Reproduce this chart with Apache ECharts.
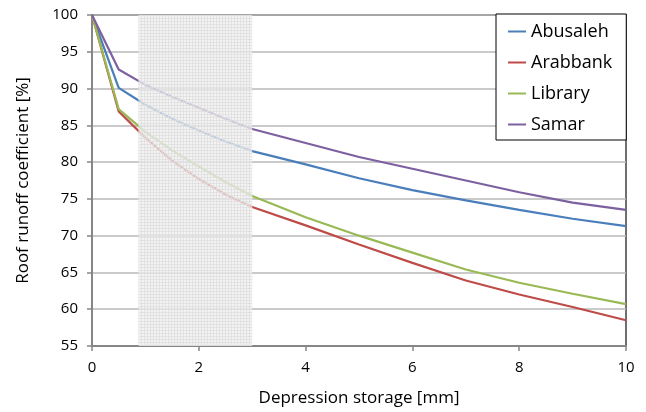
<!DOCTYPE html>
<html><head><meta charset="utf-8">
<script src="https://cdn.jsdelivr.net/npm/echarts@6/dist/echarts.min.js"></script>
<style>html,body{margin:0;padding:0;background:#fff}#c{width:646px;height:412px}</style>
</head><body><div id="c"></div>
<script>
const depth = [0, 0.5, 1, 1.5, 2, 2.5, 3, 4, 5, 6, 7, 8, 9, 10];
const abusaleh = [100, 90.1, 87.8, 85.9, 84.3, 82.8, 81.5, 79.7, 77.8, 76.2, 74.8, 73.5, 72.3, 71.3];
const arabbank = [100, 86.9, 83.3, 80.2, 77.7, 75.6, 73.9, 71.4, 68.8, 66.3, 63.9, 62.0, 60.3, 58.5];
const library  = [100, 87.2, 84.1, 81.6, 79.4, 77.3, 75.4, 72.5, 70.0, 67.7, 65.4, 63.6, 62.1, 60.7];
const samar    = [100, 92.6, 90.5, 88.9, 87.4, 85.9, 84.5, 82.6, 80.7, 79.1, 77.5, 75.9, 74.5, 73.5];
const seriesNames = ['Abusaleh', 'Arabbank', 'Library', 'Samar'];
const shadeRange = [0.87, 3];
const xTicks = [0, 2, 4, 6, 8, 10];
const yTicks = [55, 60, 65, 70, 75, 80, 85, 90, 95, 100];

const colors = ['#4A7EBB', '#BE4B48', '#98B954', '#7D60A0'];
const font = '"Open Sans", "Noto Sans", sans-serif';

// pattern for shaded area
const pc = document.createElement('canvas');
pc.width = 3; pc.height = 3;
const pctx = pc.getContext('2d');
pctx.fillStyle = 'rgba(238,238,238,0.72)';
pctx.fillRect(0, 0, 3, 3);
pctx.fillStyle = 'rgba(220,220,220,0.72)';
pctx.fillRect(0, 0, 3, 1);
pctx.fillRect(0, 0, 1, 3);

const all = [abusaleh, arabbank, library, samar];
const series = all.map((vals, i) => ({
  name: seriesNames[i],
  type: 'line',
  data: depth.map((d, j) => [d, vals[j]]),
  symbol: 'none',
  lineStyle: { width: 2.2, color: colors[i] },
  itemStyle: { color: colors[i] },
  z: 2,
  animation: false
}));
series.push({
  name: 'shade',
  type: 'line',
  data: [],
  z: 5,
  markArea: {
    silent: true,
    z: 5,
    itemStyle: { color: { image: pc, repeat: 'repeat' } },
    data: [[{ xAxis: shadeRange[0] }, { xAxis: shadeRange[1] }]]
  },
  animation: false
});

const chart = echarts.init(document.getElementById('c'), null, { renderer: 'canvas' });
chart.setOption({
  animation: false,
  backgroundColor: '#fff',
  grid: {
    left: 92, right: 20, top: 15, bottom: 66,
    show: true, borderColor: '#404040', borderWidth: 1.5, backgroundColor: 'transparent'
  },
  legend: {
    data: seriesNames.map(n => ({ name: n, icon: 'rect' })),
    orient: 'vertical',
    left: 496, top: 14,
    backgroundColor: '#fff',
    borderColor: '#000', borderWidth: 1,
    padding: [2, 14, 0, 12],
    itemWidth: 18, itemHeight: 2, itemGap: 0,
    textStyle: { fontFamily: font, fontSize: 18, color: '#000', lineHeight: 31 },
    z: 10
  },
  xAxis: {
    type: 'value', min: 0, max: 10, interval: 2,
    name: 'Depression storage [mm]', nameLocation: 'middle', nameGap: 44,
    nameTextStyle: { fontFamily: font, fontSize: 17, color: '#000' },
    axisLine: { lineStyle: { color: '#868686', width: 2 } },
    axisTick: { show: true, length: 5, lineStyle: { color: '#868686', width: 1.5 } },
    axisLabel: { fontFamily: font, fontSize: 15, color: '#000', margin: 14,
      formatter: v => xTicks.includes(v) ? String(v) : '' },
    splitLine: { show: false }
  },
  yAxis: {
    type: 'value', min: 55, max: 100, interval: 5,
    name: 'Roof runoff coefficient [%]', nameLocation: 'middle', nameGap: 60, nameRotate: 90,
    nameTextStyle: { fontFamily: font, fontSize: 17, color: '#000' },
    axisLine: { show: true, lineStyle: { color: '#868686', width: 2 } },
    axisTick: { show: true, length: 5, lineStyle: { color: '#868686', width: 1.5 } },
    axisLabel: { fontFamily: font, fontSize: 15, color: '#000', margin: 14,
      formatter: v => yTicks.includes(v) ? String(v) : '' },
    splitLine: { show: true, lineStyle: { color: '#b8b8b8', width: 1.5 } }
  },
  series: series
});
</script></body></html>
